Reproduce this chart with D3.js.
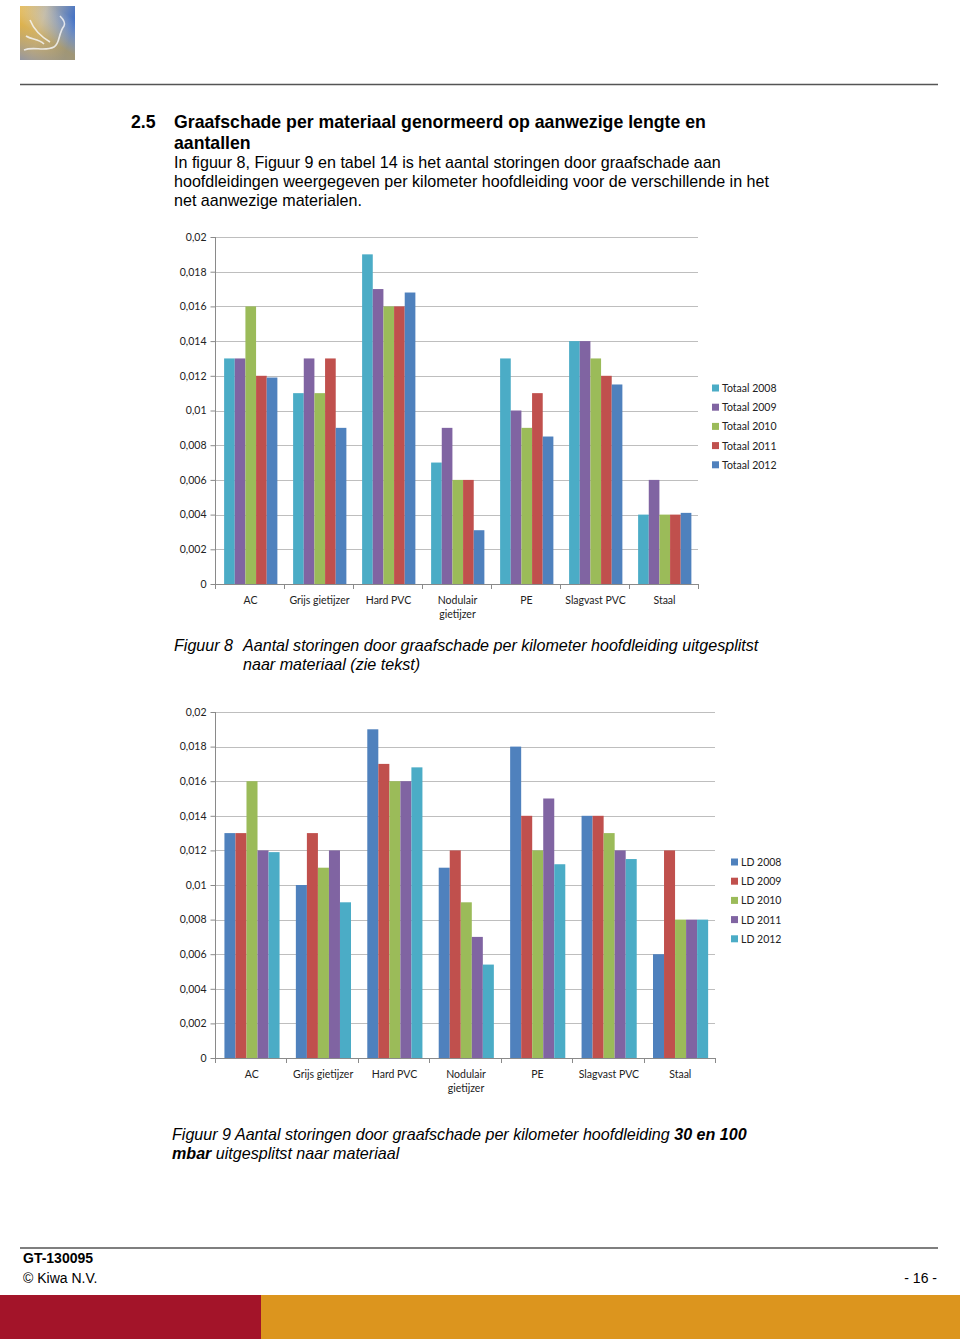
<!DOCTYPE html>
<html><head><meta charset="utf-8">
<script src="https://cdn.jsdelivr.net/npm/d3@7"></script>
<style>body{margin:0;background:#fff}svg{display:block}</style>
</head><body>
<script>
const categories = ["AC", "Grijs gietijzer", "Hard PVC", "Nodulair gietijzer", "PE", "Slagvast PVC", "Staal"];
const yTicks = [0, 0.002, 0.004, 0.006, 0.008, 0.01, 0.012, 0.014, 0.016, 0.018, 0.02];
const yTickLabels = ["0", "0,002", "0,004", "0,006", "0,008", "0,01", "0,012", "0,014", "0,016", "0,018", "0,02"];

const series1Names = ["Totaal 2008", "Totaal 2009", "Totaal 2010", "Totaal 2011", "Totaal 2012"];
const totaal2008 = [0.013, 0.011, 0.019, 0.007, 0.013, 0.014, 0.004];
const totaal2009 = [0.013, 0.013, 0.017, 0.009, 0.010, 0.014, 0.006];
const totaal2010 = [0.016, 0.011, 0.016, 0.006, 0.009, 0.013, 0.004];
const totaal2011 = [0.012, 0.013, 0.016, 0.006, 0.011, 0.012, 0.004];
const totaal2012 = [0.0119, 0.009, 0.0168, 0.0031, 0.0085, 0.0115, 0.0041];
const series1Colors = ["#4BACC6", "#8064A2", "#9BBB59", "#C0504D", "#4F81BD"];

const series2Names = ["LD 2008", "LD 2009", "LD 2010", "LD 2011", "LD 2012"];
const ld2008 = [0.013, 0.010, 0.019, 0.011, 0.018, 0.014, 0.006];
const ld2009 = [0.013, 0.013, 0.017, 0.012, 0.014, 0.014, 0.012];
const ld2010 = [0.016, 0.011, 0.016, 0.009, 0.012, 0.013, 0.008];
const ld2011 = [0.012, 0.012, 0.016, 0.007, 0.015, 0.012, 0.008];
const ld2012 = [0.0119, 0.009, 0.0168, 0.0054, 0.0112, 0.0115, 0.008];
const series2Colors = ["#4F81BD", "#C0504D", "#9BBB59", "#8064A2", "#4BACC6"];

const W = 960, H = 1339;
const svg = d3.select("body").append("svg").attr("width", W).attr("height", H);

// logo
const defs = svg.append("defs");
const lg = defs.append("linearGradient").attr("id", "logoG").attr("x1", "0").attr("y1", "0").attr("x2", "1").attr("y2", "0.3");
lg.append("stop").attr("offset", "0").attr("stop-color", "#E3B54A");
lg.append("stop").attr("offset", "0.45").attr("stop-color", "#B9B4A6");
lg.append("stop").attr("offset", "1").attr("stop-color", "#3F6FC6");
const lg2 = defs.append("linearGradient").attr("id", "logoG2").attr("x1", "0").attr("y1", "1").attr("x2", "0.6").attr("y2", "0");
lg2.append("stop").attr("offset", "0").attr("stop-color", "#8E93A6").attr("stop-opacity", 0.9);
lg2.append("stop").attr("offset", "0.5").attr("stop-color", "#E0B040").attr("stop-opacity", 0.6);
lg2.append("stop").attr("offset", "1").attr("stop-color", "#ffffff").attr("stop-opacity", 0);
svg.append("rect").attr("x", 20).attr("y", 6).attr("width", 55).attr("height", 54).attr("fill", "url(#logoG)");
svg.append("rect").attr("x", 20).attr("y", 6).attr("width", 55).attr("height", 54).attr("fill", "url(#logoG2)");
svg.append("path").attr("d", "M24,50 C34,46 44,52 54,47 C60,44 58,34 64,26 C66,22 62,18 60,16 M30,20 C34,30 40,36 50,42 M26,36 C32,40 38,38 44,44")
  .attr("fill", "none").attr("stroke", "#f4f4f4").attr("stroke-width", 1.6).attr("opacity", 0.85);

// header line
svg.append("line").attr("x1", 20).attr("x2", 938).attr("y1", 84.5).attr("y2", 84.5).attr("stroke", "#555").attr("stroke-width", 1.6);

// heading
const head = svg.append("g").attr("font-family", "Liberation Sans, Arial, sans-serif");
head.append("text").attr("x", 131).attr("y", 128).attr("font-size", 17.7).attr("font-weight", "bold").text("2.5");
head.append("text").attr("x", 174).attr("y", 128).attr("font-size", 17.7).attr("font-weight", "bold").text("Graafschade per materiaal genormeerd op aanwezige lengte en");
head.append("text").attr("x", 174).attr("y", 149).attr("font-size", 17.7).attr("font-weight", "bold").text("aantallen");
const body = ["In figuur 8, Figuur 9 en tabel 14 is het aantal storingen door graafschade aan",
  "hoofdleidingen weergegeven per kilometer hoofdleiding voor de verschillende in het",
  "net aanwezige materialen."];
body.forEach((t, i) => head.append("text").attr("x", 174).attr("y", 167.5 + i * 19).attr("font-size", 16.1).text(t));

function drawChart(cfg) {
  const g = svg.append("g").attr("font-family", "Lato, 'Open Sans', sans-serif");
  const xb = d3.scaleBand().domain(categories).range([cfg.x0, cfg.x1]);
  const step = xb.step();
  const groupOff = step * 0.132, groupW = step * 0.772;
  const y = d3.scaleLinear().domain([0, 0.02]).range([cfg.y0, cfg.y1]);
  const xs = d3.scaleBand().domain(cfg.names).range([0, groupW]);

  // gridlines
  g.append("g").selectAll("line").data(yTicks.slice(1)).join("line")
    .attr("x1", cfg.x0).attr("x2", cfg.x1)
    .attr("y1", d => Math.round(y(d)) + 0.5).attr("y2", d => Math.round(y(d)) + 0.5)
    .attr("stroke", "#BEBEBE").attr("stroke-width", 1);

  // y axis
  const ya = d3.axisLeft(y).tickValues(yTicks).tickFormat((d, i) => yTickLabels[i]).tickSize(5).tickPadding(4);
  const yg = g.append("g").attr("transform", `translate(${cfg.x0 + 0.5},0)`).call(ya);
  yg.selectAll("path,line").attr("stroke", "#8A8A8A");
  yg.select(".domain").attr("d", `M0,${cfg.y0}V${cfg.y1}`);
  yg.selectAll("text").attr("font-size", 10.5).attr("fill", "#222").attr("font-family", "Lato, sans-serif");

  // bars
  cfg.series.forEach((vals, si) => {
    g.append("g").selectAll("rect").data(vals).join("rect")
      .attr("x", (d, i) => xb(categories[i]) + groupOff + xs(cfg.names[si]))
      .attr("y", d => y(d))
      .attr("width", xs.bandwidth())
      .attr("height", d => y(0) - y(d))
      .attr("fill", cfg.colors[si]);
  });

  // x axis
  const xa = g.append("g");
  xa.append("line").attr("x1", cfg.x0).attr("x2", cfg.x1).attr("y1", cfg.y0 + 0.5).attr("y2", cfg.y0 + 0.5).attr("stroke", "#8A8A8A");
  const bounds = categories.map(c => xb(c)).concat([cfg.x1]);
  xa.selectAll("line.tk").data(bounds).join("line").attr("class", "tk")
    .attr("x1", d => Math.round(d) + 0.5).attr("x2", d => Math.round(d) + 0.5)
    .attr("y1", cfg.y0).attr("y2", cfg.y0 + 5).attr("stroke", "#8A8A8A");
  categories.forEach(c => {
    const cx = xb(c) + xb.bandwidth() / 2 + 1;
    const parts = c === "Nodulair gietijzer" ? ["Nodulair", "gietijzer"] : [c];
    parts.forEach((p, k) => xa.append("text").attr("x", cx).attr("y", cfg.y0 + 20 + k * 14)
      .attr("text-anchor", "middle").attr("font-size", 10.5).attr("fill", "#222").text(p));
  });

  // legend
  const leg = g.append("g");
  cfg.names.forEach((n, i) => {
    const ly = cfg.ly + i * 19.2;
    leg.append("rect").attr("x", cfg.lx).attr("y", ly - 3.5).attr("width", 7).attr("height", 7).attr("fill", cfg.colors[i]);
    leg.append("text").attr("x", cfg.lx + 10).attr("y", ly + 4).attr("font-size", 10.5).attr("fill", "#222").text(n);
  });
}

drawChart({x0: 215, x1: 698, y0: 584, y1: 237, names: series1Names,
  series: [totaal2008, totaal2009, totaal2010, totaal2011, totaal2012], colors: series1Colors, lx: 712, ly: 388});
drawChart({x0: 215, x1: 715, y0: 1058, y1: 712, names: series2Names,
  series: [ld2008, ld2009, ld2010, ld2011, ld2012], colors: series2Colors, lx: 731, ly: 862});

// captions
const cap = svg.append("g").attr("font-family", "Liberation Sans, Arial, sans-serif").attr("font-style", "italic").attr("font-size", 16.1);
cap.append("text").attr("x", 174).attr("y", 651).text("Figuur 8");
cap.append("text").attr("x", 243).attr("y", 651).text("Aantal storingen door graafschade per kilometer hoofdleiding uitgesplitst");
cap.append("text").attr("x", 243).attr("y", 670).text("naar materiaal (zie tekst)");
const c2 = cap.append("text").attr("x", 172).attr("y", 1140);
c2.append("tspan").text("Figuur 9 Aantal storingen door graafschade per kilometer hoofdleiding ");
c2.append("tspan").attr("font-weight", "bold").text("30 en 100");
const c3 = cap.append("text").attr("x", 172).attr("y", 1159);
c3.append("tspan").attr("font-weight", "bold").text("mbar");
c3.append("tspan").text(" uitgesplitst naar materiaal");

// footer
svg.append("line").attr("x1", 20).attr("x2", 938).attr("y1", 1248).attr("y2", 1248).attr("stroke", "#555").attr("stroke-width", 1.6);
const ft = svg.append("g").attr("font-family", "Liberation Sans, Arial, sans-serif").attr("font-size", 14);
ft.append("text").attr("x", 23).attr("y", 1263).attr("font-weight", "bold").text("GT-130095");
ft.append("text").attr("x", 23).attr("y", 1283).text("© Kiwa N.V.");
ft.append("text").attr("x", 937).attr("y", 1283).attr("text-anchor", "end").text("- 16 -");
svg.append("rect").attr("x", 0).attr("y", 1295).attr("width", 261).attr("height", 44).attr("fill", "#A31429");
svg.append("rect").attr("x", 261).attr("y", 1295).attr("width", 699).attr("height", 44).attr("fill", "#DC951E");
</script>
</body></html>
